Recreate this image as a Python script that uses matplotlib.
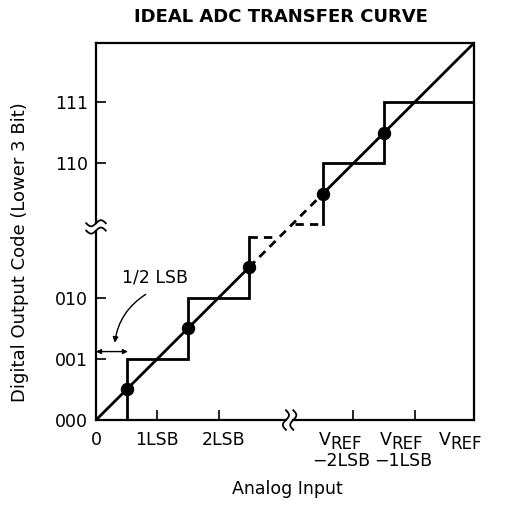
import numpy as np
import matplotlib
matplotlib.use("Agg")
import matplotlib.pyplot as plt
from matplotlib.transforms import ScaledTranslation

plt.rcParams['font.family'] = ['DejaVu Sans']

# plot units are LSB; the middle codes are cut out by the axis breaks
full_scale = 6.17
x_break = 3.16
y_break = 3.16

x_ticks = [0, 1, 2, 4.2, 5.2, 6.17]
x_labels = ["0", "1LSB", "2LSB", "", "", ""]
vref_ticks = [4.2, 5.2, 6.17]
vref_sub = ["\u22122LSB", "\u22121LSB", ""]
y_ticks = [0, 1, 2, 4.2, 5.2]
y_labels = ["000", "001", "010", "110", "111"]

# staircase of the ideal transfer curve
low_step_x = [0.5, 0.5, 1.5, 1.5, 2.5, 2.5]
low_step_y = [0.0, 1.0, 1.0, 2.0, 2.0, 3.0]
low_dash_x = [2.5, 2.95]
low_dash_y = [3.0, 3.0]
high_dash_x = [3.25, 3.7]
high_dash_y = [3.2, 3.2]
high_step_x = [3.7, 3.7, 4.7, 4.7, 6.17]
high_step_y = [3.2, 4.2, 4.2, 5.2, 5.2]

# code transition points on the straight line
dots = [0.5, 1.5, 2.5, 3.7, 4.7]

fig = plt.figure(figsize=(5.12, 5.12), dpi=100)
ax = fig.add_axes([96 / 512, 1 - 420 / 512, 378 / 512, 377 / 512])
ax.set_xlim(0, full_scale)
ax.set_ylim(0, full_scale)

lw = 2.0
ax.plot(low_step_x, low_step_y, color="black", lw=lw, solid_joinstyle="miter")
ax.plot(high_step_x, high_step_y, color="black", lw=lw, solid_joinstyle="miter")
ax.plot(low_dash_x, low_dash_y, color="black", lw=lw, dashes=(3, 2.2))
ax.plot(high_dash_x, high_dash_y, color="black", lw=lw, dashes=(3, 2.2))

# ideal straight line
ax.plot([0, dots[2]], [0, dots[2]], color="black", lw=lw)
ax.plot([dots[2], dots[3]], [dots[2], dots[3]], color="black", lw=lw, dashes=(3, 2.2))
ax.plot([dots[3], full_scale], [dots[3], full_scale], color="black", lw=lw)
ax.scatter(dots, dots, s=75, color="black", zorder=5)

# frame: top and right plain, bottom and left with breaks
for side in ["left", "bottom"]:
    ax.spines[side].set_visible(False)
for side in ["top", "right"]:
    ax.spines[side].set_linewidth(1.6)
gap = 0.06
ax.plot([0, x_break - gap], [0, 0], color="black", lw=1.6, clip_on=False)
ax.plot([x_break + gap, full_scale], [0, 0], color="black", lw=1.6, clip_on=False)
ax.plot([0, 0], [0, y_break - gap], color="black", lw=1.6, clip_on=False)
ax.plot([0, 0], [y_break + gap, full_scale], color="black", lw=1.6, clip_on=False)

t = np.linspace(-1, 1, 30)
for off in (-gap, gap):
    ax.plot(x_break + off + 0.05 * np.sin(t * np.pi), 0.16 * t, color="black",
            lw=1.3, clip_on=False)
    ax.plot(0.16 * t, y_break + off + 0.05 * np.sin(t * np.pi), color="black",
            lw=1.3, clip_on=False)

ax.set_xticks(x_ticks)
ax.set_xticklabels(x_labels, fontsize=12.5, va="top")
ax.set_yticks(y_ticks)
ax.set_yticklabels(y_labels, fontsize=12.5)
ax.tick_params(direction="in", length=7, width=1.2, pad=6)
ax.tick_params(axis="x", pad=8)
shifts = [0, 0, 5, 0, 0, 0]
for lab, s in zip(ax.get_xticklabels(), shifts):
    lab.set_transform(lab.get_transform() + ScaledTranslation(s / 100, 0, fig.dpi_scale_trans))

# V_REF labels: large V with a lowered, slightly smaller REF
for xv, sub in zip(vref_ticks, vref_sub):
    ax.annotate("V", xy=(xv, 0), xycoords=("data", "axes fraction"),
                xytext=(-16.5, -8), textcoords="offset points",
                ha="right", va="top", fontsize=12.5, annotation_clip=False)
    ax.annotate("REF", xy=(xv, 0), xycoords=("data", "axes fraction"),
                xytext=(-16.8, -11), textcoords="offset points",
                ha="left", va="top", fontsize=12, annotation_clip=False)
    if sub:
        ax.annotate(sub, xy=(xv, 0), xycoords=("data", "axes fraction"),
                    xytext=(-8.5, -23), textcoords="offset points",
                    ha="center", va="top", fontsize=12.5, annotation_clip=False)

# 1/2 LSB marker
ax.annotate("", xy=(0.0, 1.12), xytext=(0.52, 1.12),
            arrowprops=dict(arrowstyle="<|-|>", color="black", lw=1.0,
                            mutation_scale=7, shrinkA=0, shrinkB=0))
ax.text(0.96, 2.33, "1/2 LSB", fontsize=12.5, ha="center", va="center")
ax.annotate("", xy=(0.3, 1.22), xytext=(0.85, 2.08),
            arrowprops=dict(arrowstyle="-|>", color="black", lw=1.0,
                            mutation_scale=8, connectionstyle="arc3,rad=0.25"))

fig.text(281 / 512, 1 - 17 / 512, "IDEAL ADC TRANSFER CURVE", fontsize=13,
         fontweight="bold", ha="center", va="center")
fig.text(287 / 512, 1 - 489 / 512, "Analog Input", fontsize=12.5,
         ha="center", va="center")
fig.text(20 / 512, 1 - 252 / 512, "Digital Output Code (Lower 3 Bit)",
         fontsize=13, rotation=90, ha="center", va="center")

fig.savefig("out.png", dpi=100)
